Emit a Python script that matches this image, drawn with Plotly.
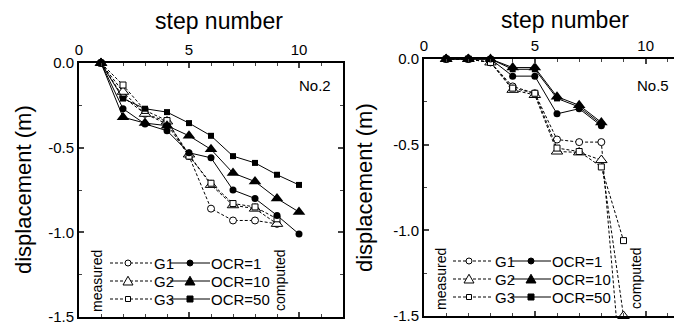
import plotly.graph_objects as go

# ---------------- data ----------------
steps_meas_left = [1, 2, 3, 4, 5, 6, 7, 8, 9]
left_G1 = [0, -0.20, -0.30, -0.36, -0.55, -0.86, -0.93, -0.93, -0.95]
left_G2 = [0, -0.17, -0.30, -0.345, -0.54, -0.72, -0.84, -0.86, -0.95]
left_G3 = [0, -0.13, -0.28, -0.34, -0.55, -0.71, -0.83, -0.85, -0.92]

steps_comp_left = [1, 2, 3, 4, 5, 6, 7, 8, 9, 10]
left_OCR1 = [0, -0.27, -0.36, -0.40, -0.53, -0.56, -0.75, -0.80, -0.90, -1.01]
left_OCR10 = [0, -0.32, -0.355, -0.37, -0.43, -0.51, -0.65, -0.70, -0.80, -0.88]
left_OCR50 = [0, -0.21, -0.27, -0.29, -0.355, -0.43, -0.55, -0.59, -0.66, -0.72]

steps_meas_right = [1, 2, 3, 4, 5, 6, 7, 8, 9]
right_G1 = [0, 0, -0.02, -0.16, -0.20, -0.47, -0.485, -0.485, -2.0]
right_G2 = [0, 0, -0.02, -0.18, -0.21, -0.54, -0.545, -0.59, -1.5]
right_G3 = [0, 0, -0.02, -0.17, -0.20, -0.52, -0.54, -0.63, -1.06]

steps_comp_right = [1, 2, 3, 4, 5, 6, 7, 8]
right_OCR1 = [0, 0, 0, -0.10, -0.10, -0.32, -0.29, -0.39]
right_OCR10 = [0, 0, 0, -0.05, -0.05, -0.22, -0.27, -0.37]
right_OCR50 = [0, 0, 0, -0.06, -0.06, -0.23, -0.28, -0.38]

x_tickvals = [0, 5, 10]
y_tickvals = [0, -0.5, -1.0, -1.5]
y_ticktext = ["0.0", "-0.5", "-1.0", "-1.5"]
meas_names = ["G1", "G2", "G3"]
comp_names = ["OCR=1", "OCR=10", "OCR=50"]
panel_labels = ["No.2", "No.5"]

# ---------------- styling ----------------
W, H = 682, 332
OFF = 8  # page body margin offset
FONT = "Liberation Sans, Arial, Helvetica, sans-serif"
DASH = "3px,2px"


def px(x):
    return min(1.0, max(0.0, (x - OFF) / W))


def py(y):
    return 1 - (y - OFF) / H


meas_sym = [("circle", 7), ("triangle-up", 10), ("square", 6)]
comp_sym = [("circle", 7), ("triangle-up", 11), ("square", 6)]

fig = go.Figure()


def add_meas(xs, ys, k, xa, ya, clip=False):
    sym, sz = meas_sym[k]
    fig.add_trace(go.Scatter(
        x=xs, y=ys, mode="lines+markers", xaxis=xa, yaxis=ya,
        line=dict(color="black", width=1, dash=DASH),
        marker=dict(symbol=sym, size=sz, color="white",
                    line=dict(color="black", width=1)),
        cliponaxis=clip, showlegend=False, name=meas_names[k]))


def add_comp(xs, ys, k, xa, ya):
    sym, sz = comp_sym[k]
    fig.add_trace(go.Scatter(
        x=xs, y=ys, mode="lines+markers", xaxis=xa, yaxis=ya,
        line=dict(color="black", width=1),
        marker=dict(symbol=sym, size=sz, color="black",
                    line=dict(color="black", width=0)),
        cliponaxis=False, showlegend=False, name=comp_names[k]))


for k, ys in enumerate([left_G1, left_G2, left_G3]):
    add_meas(steps_meas_left, ys, k, "x", "y")
for k, ys in enumerate([left_OCR1, left_OCR10, left_OCR50]):
    add_comp(steps_comp_left, ys, k, "x", "y")

for k, ys in enumerate([right_G1, right_G2, right_G3]):
    add_meas(steps_meas_right, ys, k, "x2", "y2", clip=(k == 0))
for k, ys in enumerate([right_OCR1, right_OCR10, right_OCR50]):
    add_comp(steps_comp_right, ys, k, "x2", "y2")


def xaxis_cfg(domain, rng, anchor):
    return dict(domain=domain, range=rng, anchor=anchor, side="top",
                tickvals=x_tickvals, ticks="inside", ticklen=5, tickwidth=1.5,
                minor=dict(dtick=1, tick0=0, ticks="inside", ticklen=3, tickwidth=1),
                showline=True, linecolor="black", linewidth=2, mirror="ticks",
                showgrid=False, zeroline=False, automargin=False,
                tickfont=dict(family=FONT, size=15, color="black"))


def yaxis_cfg(domain, anchor, mirror):
    return dict(domain=domain, range=[-1.5, 0], anchor=anchor,
                tickvals=y_tickvals, ticktext=y_ticktext,
                ticks="inside", ticklen=5, tickwidth=1.5,
                minor=dict(dtick=0.25, tick0=0, ticks="inside", ticklen=3, tickwidth=1),
                showline=True, linecolor="black", linewidth=2, mirror=mirror,
                showgrid=False, zeroline=False, automargin=False,
                tickfont=dict(family=FONT, size=15, color="black"))


fig.update_layout(
    width=W, height=H, margin=dict(l=0, r=0, t=0, b=0),
    paper_bgcolor="white", plot_bgcolor="white", showlegend=False,
    xaxis=xaxis_cfg([px(79), px(343)], [0, 12], "y"),
    yaxis=yaxis_cfg([py(317), py(63)], "x", "ticks"),
    xaxis2=xaxis_cfg([px(424), px(690)], [0, 12], "y2"),
    yaxis2=yaxis_cfg([py(316), py(59)], "x2", "ticks"),
)

ann = []
shapes = []


def text(x, y, s, size=15, xanchor="center", angle=0):
    ann.append(dict(x=px(x), y=py(y), xref="paper", yref="paper", text=s,
                    showarrow=False, xanchor=xanchor, yanchor="middle",
                    textangle=angle, font=dict(family=FONT, size=size, color="black")))


# titles
text(219, 21, "step number", size=23)
text(565, 20, "step number", size=23)
text(23, 190, "displacement (m)", size=22, angle=-90)
text(364, 188, "displacement (m)", size=22, angle=-90)
text(315, 85, panel_labels[0], size=15)
text(653, 85, panel_labels[1], size=15)


def marker_shape(cx, cy, kind, filled, r):
    fill = "black" if filled else "white"
    line = dict(color="black", width=1)
    if kind == 0:
        shapes.append(dict(type="circle", xref="paper", yref="paper",
                           x0=px(cx - r), x1=px(cx + r), y0=py(cy + r), y1=py(cy - r),
                           fillcolor=fill, line=line, layer="above"))
    elif kind == 1:
        path = "M %f %f L %f %f L %f %f Z" % (px(cx - r), py(cy + r * 0.8), px(cx + r), py(cy + r * 0.8),
                                              px(cx), py(cy - r * 0.95))
        shapes.append(dict(type="path", xref="paper", yref="paper", path=path,
                           fillcolor=fill, line=line, layer="above"))
    else:
        shapes.append(dict(type="rect", xref="paper", yref="paper",
                           x0=px(cx - r), x1=px(cx + r), y0=py(cy + r), y1=py(cy - r),
                           fillcolor=fill, line=line, layer="above"))


def legend_block(x_meas, x_dash0, x_dash1, x_mark, x_g, x_sol0, x_sol1, x_cmark, x_ocr, x_comp, rows):
    for i, yy in enumerate(rows):
        shapes.append(dict(type="line", xref="paper", yref="paper",
                           x0=px(x_dash0), x1=px(x_dash1), y0=py(yy), y1=py(yy),
                           line=dict(color="black", width=1, dash=DASH)))
        shapes.append(dict(type="line", xref="paper", yref="paper",
                           x0=px(x_sol0), x1=px(x_sol1), y0=py(yy), y1=py(yy),
                           line=dict(color="black", width=1)))
        r_open = [3, 5, 2.5][i]
        r_fill = [3, 5, 3][i]
        marker_shape(x_mark, yy, i, False, r_open)
        marker_shape(x_cmark, yy, i, True, r_fill)
        text(x_g, yy, meas_names[i], size=15, xanchor="left")
        text(x_ocr, yy, comp_names[i], size=15, xanchor="left")
    mid = (rows[0] + rows[-1]) / 2
    text(x_meas, mid, "measured", size=14, angle=-90)
    text(x_comp, mid, "computed", size=14, angle=-90)


legend_block(97, 110, 152, 128, 152, 170, 210, 190, 209, 280, [263, 281, 299])
legend_block(441, 453, 493, 469, 493, 511, 551, 531, 550, 636, [261, 279, 297])

fig.update_layout(annotations=ann, shapes=shapes)
fig.write_html("out.html")
